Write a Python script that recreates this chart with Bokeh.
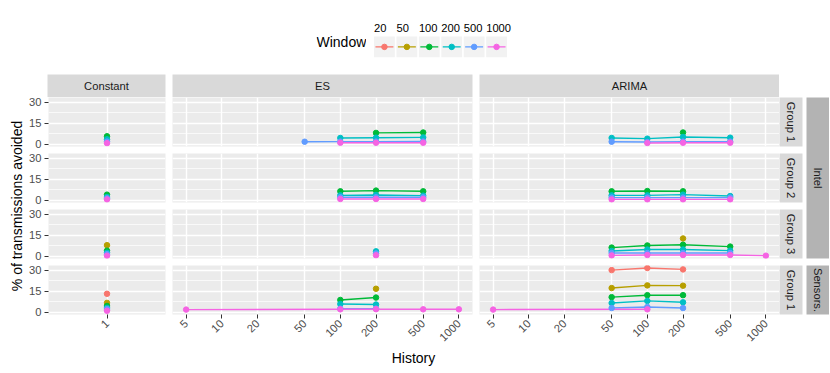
import math
from bokeh.plotting import figure
from bokeh.layouts import row, column
from bokeh.models import (Range1d, FactorRange, FixedTicker, Grid, LinearAxis,
                          NumeralTickFormatter, Spacer, ColumnDataSource, LogScale, LabelSet)
from bokeh.transform import dodge
from bokeh.core.properties import value
from bokeh.embed import file_html
from bokeh.resources import INLINE

# ---------------- data ----------------
WINDOWS = [20, 50, 100, 200, 500, 1000]
WINDOW_LABELS = ["20", "50", "100", "200", "500", "1000"]
COLORS = ["#F8766D", "#B79F00", "#00BA38", "#00BFC4", "#619CFF", "#F564E3"]
METHODS = ["Constant", "ES", "ARIMA"]
GROUPS = ["Group 1", "Group 2", "Group 3", "Group 1"]
DATASETS = ["Intel", "Sensors."]
X_BREAKS = [5, 10, 20, 50, 100, 200, 500, 1000]
Y_BREAKS = [0, 15, 30]
Y_MINOR = [7.5, 22.5]

# window -> (history values, % of transmissions avoided)
CONST_INTEL_G1 = {100: ([1], [5.8]), 200: ([1], [3.6]), 500: ([1], [2.0]), 1000: ([1], [0.9])}
CONST_INTEL_G2 = {100: ([1], [4.1]), 200: ([1], [2.4]), 500: ([1], [1.5]), 1000: ([1], [0.7])}
CONST_INTEL_G3 = {50: ([1], [8.0]), 100: ([1], [4.1]), 200: ([1], [2.6]), 500: ([1], [1.6]), 1000: ([1], [0.5])}
CONST_SENS_G1 = {20: ([1], [13.3]), 50: ([1], [6.8]), 100: ([1], [4.6]), 200: ([1], [3.2]),
                 500: ([1], [2.4]), 1000: ([1], [1.2])}

ES_INTEL_G1 = {
    100: ([200, 500], [8.2, 8.5]),
    200: ([100, 200, 500], [4.6, 4.8, 5.0]),
    500: ([50, 100, 200, 500], [1.9, 2.0, 2.0, 2.1]),
    1000: ([100, 200, 500], [1.2, 1.2, 1.2]),
}
ES_INTEL_G2 = {
    100: ([100, 200, 500], [6.5, 7.0, 6.5]),
    200: ([100, 200, 500], [3.6, 3.9, 3.4]),
    500: ([100, 200, 500], [2.2, 2.2, 2.2]),
    1000: ([100, 200, 500], [1.0, 1.0, 1.0]),
}
ES_INTEL_G3 = {
    200: ([200], [3.6]),
    500: ([200], [2.1]),
    1000: ([200], [0.8]),
}
ES_SENS_G1 = {
    50: ([200], [16.9]),
    100: ([100, 200], [8.9, 10.6]),
    200: ([100, 200], [6.0, 5.6]),
    500: ([100, 200], [2.7, 2.7]),
    1000: ([5, 100, 200, 500, 1000], [2.0, 2.2, 2.3, 2.2, 2.2]),
}

ARIMA_INTEL_G1 = {
    100: ([200], [8.5]),
    200: ([50, 100, 200, 500], [4.6, 4.1, 5.3, 4.8]),
    500: ([50, 100, 200, 500], [1.9, 1.7, 2.0, 2.0]),
    1000: ([100, 200, 500], [1.0, 1.2, 1.2]),
}
ARIMA_INTEL_G2 = {
    100: ([50, 100, 200], [6.5, 6.7, 6.5]),
    200: ([50, 100, 200, 500], [3.6, 3.6, 4.1, 3.1]),
    500: ([50, 100, 200, 500], [2.0, 2.0, 2.0, 2.0]),
    1000: ([50, 100, 200, 500], [0.7, 0.7, 0.7, 0.7]),
}
ARIMA_INTEL_G3 = {
    50: ([200], [12.8]),
    100: ([50, 100, 200, 500], [6.3, 7.8, 8.3, 7.0]),
    200: ([50, 100, 200, 500], [3.9, 4.9, 4.9, 4.1]),
    500: ([50, 100, 200, 500], [2.4, 2.4, 2.4, 2.4]),
    1000: ([50, 100, 200, 500, 1000], [0.7, 1.0, 1.0, 1.0, 0.5]),
}
ARIMA_SENS_G1 = {
    20: ([50, 100, 200], [30.2, 31.7, 30.7]),
    50: ([50, 100, 200], [17.4, 19.3, 19.1]),
    100: ([50, 100, 200], [10.9, 12.3, 12.3]),
    200: ([50, 100, 200], [6.7, 8.2, 7.2]),
    500: ([50, 100, 200], [3.1, 3.9, 3.1]),
    1000: ([5, 100], [2.0, 2.2]),
}

PANELS = [
    [CONST_INTEL_G1, ES_INTEL_G1, ARIMA_INTEL_G1],
    [CONST_INTEL_G2, ES_INTEL_G2, ARIMA_INTEL_G2],
    [CONST_INTEL_G3, ES_INTEL_G3, ARIMA_INTEL_G3],
    [CONST_SENS_G1, ES_SENS_G1, ARIMA_SENS_G1],
]

# ---------------- styling / layout ----------------
FONT = "Liberation Sans"
SMALL = "11.2px"
BIG = "14px"
PANEL_BG = "#EBEBEB"
STRIP_BG = "#D9D9D9"
STRIP_BG2 = "#B3B3B3"
Y_LO, Y_HI = -1.5, 33.5
X_LO, X_HI = 10 ** 0.584, 10 ** 3.115
FRAME_W = [118, 300, 300]
FRAME_H = 49
GAP = 7
YAX_W = 21
XAX_H = 33
STRIP_H = 23
LEG_H = 74
TOTAL_W = 829


def base_fig(w, h, left=0, right=0, top=0, bottom=0, **kw):
    p = figure(width=w, height=h, toolbar_location=None, output_backend="svg",
               x_axis_location=None, y_axis_location=None,
               min_border=0, min_border_left=left, min_border_right=right,
               min_border_top=top, min_border_bottom=bottom,
               border_fill_color="white", outline_line_color=None, **kw)
    p.center = [c for c in p.center if not isinstance(c, Grid)]
    return p


def style_axis(ax):
    ax.axis_line_color = None
    ax.major_tick_line_color = "#333333"
    ax.major_tick_line_width = 1.0
    ax.major_tick_out = 4
    ax.major_tick_in = 0
    ax.minor_tick_out = 0
    ax.minor_tick_in = 0
    ax.major_label_text_font = FONT
    ax.major_label_text_font_size = SMALL
    ax.major_label_text_color = "#4D4D4D"
    ax.major_label_standoff = 3


def panel(data, col, r):
    is_const = col == 0
    last = r == 3
    left = YAX_W if is_const else 0
    right = GAP if col < 2 else 0
    bottom = XAX_H if last else GAP
    w = FRAME_W[col] + left + right
    h = FRAME_H + bottom
    if is_const:
        p = base_fig(w, h, left=left, right=right, bottom=bottom,
                     x_range=Range1d(0.4, 1.6), y_range=Range1d(Y_LO, Y_HI))
        xt = FixedTicker(ticks=[1])
    else:
        p = base_fig(w, h, left=left, right=right, bottom=bottom,
                     x_range=Range1d(X_LO, X_HI), y_range=Range1d(Y_LO, Y_HI),
                     x_axis_type="log")
        p.x_scale = LogScale()
        xt = FixedTicker(ticks=X_BREAKS)
    p.background_fill_color = PANEL_BG
    p.add_layout(Grid(dimension=1, ticker=FixedTicker(ticks=Y_BREAKS, minor_ticks=Y_MINOR),
                      grid_line_color="white", grid_line_width=1.4,
                      minor_grid_line_color="white", minor_grid_line_width=0.7))
    p.add_layout(Grid(dimension=0, ticker=xt, grid_line_color="white", grid_line_width=1.4))
    if is_const:
        ya = LinearAxis(ticker=FixedTicker(ticks=Y_BREAKS))
        style_axis(ya)
        p.add_layout(ya, "left")
    if last:
        xa = LinearAxis(ticker=xt, formatter=NumeralTickFormatter(format="0"),
                        major_label_orientation=math.pi / 4)
        style_axis(xa)
        p.add_layout(xa, "below")
    for wv, c in zip(WINDOWS, COLORS):
        if wv in data and len(data[wv][0]) > 1:
            xs, ys = data[wv]
            p.line(xs, ys, line_color=c, line_width=1.4)
    for wv, c in zip(WINDOWS, COLORS):
        if wv in data:
            xs, ys = data[wv]
            p.scatter(xs, ys, size=5.5, fill_color=c, line_color=c)
    return p


def strip(text, w, h, left=0, right=0, bottom=0, fill=STRIP_BG, angle=0.0):
    p = base_fig(w, h, left=left, right=right, bottom=bottom,
                 x_range=Range1d(0, 1), y_range=Range1d(0, 1))
    p.background_fill_color = fill
    p.text(x=[0.5], y=[0.5], text=[text], angle=angle, text_align="center",
           text_baseline="middle", text_font=value(FONT), text_font_size=SMALL,
           text_color="#1A1A1A")
    return p


# ---- legend row ----
KEY_PAD = 0.3
keys_w = 148
KEY_UNIT = keys_w / (6 + 2 * KEY_PAD)
lead_w = 316
title_w = 50
title_fig = base_fig(title_w, LEG_H, x_range=Range1d(0, title_w), y_range=Range1d(0, LEG_H))
title_fig.text(x=[0], y=[32.5], text=["Window"], text_align="left", text_baseline="middle",
               text_font=value(FONT), text_font_size=BIG, text_color="black")

keys_fig = base_fig(keys_w, LEG_H,
                    x_range=FactorRange(factors=WINDOW_LABELS, range_padding=KEY_PAD,
                                        range_padding_units="absolute"),
                    y_range=Range1d(0, LEG_H))
ksrc = ColumnDataSource(dict(win=WINDOW_LABELS, color=COLORS))
key_y = 27.6
keys_fig.rect(x="win", y=key_y, width=0.925, height=20.7, fill_color="#F2F2F2",
              line_color=None, source=ksrc)
keys_fig.segment(x0=dodge("win", -0.4, range=keys_fig.x_range), y0=key_y,
                 x1=dodge("win", 0.4, range=keys_fig.x_range), y1=key_y,
                 line_color="color", line_width=1.4, source=ksrc)
keys_fig.scatter(x="win", y=key_y, size=5.5, fill_color="color", line_color="color", source=ksrc)
keys_fig.add_layout(LabelSet(x="win", y=47, text="win", x_offset=-0.463 * KEY_UNIT,
                             text_align="left", text_baseline="middle", text_font=value(FONT),
                             text_font_size=SMALL, text_color="black", source=ksrc))

legend_row = row(Spacer(width=lead_w, height=LEG_H), title_fig, keys_fig,
                 Spacer(width=TOTAL_W - lead_w - title_w - keys_w, height=LEG_H))

# ---- panels ----
col_strips = row(
    strip(METHODS[0], FRAME_W[0] + YAX_W + GAP, STRIP_H, left=YAX_W, right=GAP),
    strip(METHODS[1], FRAME_W[1] + GAP, STRIP_H, right=GAP),
    strip(METHODS[2], FRAME_W[2], STRIP_H),
)
panel_rows = [col_strips]
for r in range(4):
    panel_rows.append(row(*[panel(PANELS[r][c], c, r) for c in range(3)]))
panels_col = column(*panel_rows)

GS_W = 23
GS_GAP = 4
grp_items = [Spacer(width=GS_W + GS_GAP, height=STRIP_H)]
for r in range(4):
    b = XAX_H if r == 3 else GAP
    grp_items.append(strip(GROUPS[r], GS_W + GS_GAP, FRAME_H + b, right=GS_GAP, bottom=b,
                           angle=-math.pi / 2))
grp_col = column(*grp_items)

YT_W = 26
DS_W = TOTAL_W - YT_W - sum(FRAME_W) - YAX_W - 2 * GAP - GS_W - GS_GAP
ds_col = column(
    Spacer(width=DS_W, height=STRIP_H),
    strip(DATASETS[0], DS_W, 3 * FRAME_H + 3 * GAP, bottom=GAP, fill=STRIP_BG2, angle=-math.pi / 2),
    strip(DATASETS[1], DS_W, FRAME_H + XAX_H, bottom=XAX_H, fill=STRIP_BG2, angle=-math.pi / 2),
)

mid_h = STRIP_H + 3 * (FRAME_H + GAP) + FRAME_H + XAX_H
panel_center = LEG_H + STRIP_H + (4 * FRAME_H + 3 * GAP) / 2.0
ytitle = base_fig(YT_W, mid_h, x_range=Range1d(0, YT_W), y_range=Range1d(0, mid_h))
ytitle.text(x=[16], y=[mid_h - (panel_center - LEG_H)], text=["% of transmissions avoided"],
            angle=math.pi / 2, text_align="center", text_baseline="middle",
            text_font=value(FONT), text_font_size=BIG, text_color="black")

mid_row = row(ytitle, panels_col, grp_col, ds_col)

hist_h = 372 - LEG_H - mid_h
xtitle = base_fig(TOTAL_W, hist_h, x_range=Range1d(0, TOTAL_W), y_range=Range1d(0, hist_h))
panels_mid_x = YT_W + YAX_W + (sum(FRAME_W) + 2 * GAP) / 2.0
xtitle.text(x=[panels_mid_x], y=[hist_h - 10], text=["History"], text_align="center",
            text_baseline="middle", text_font=value(FONT), text_font_size=BIG,
            text_color="black")

layout = column(legend_row, mid_row, xtitle)

with open("out.html", "w") as f:
    f.write(file_html(layout, INLINE))
